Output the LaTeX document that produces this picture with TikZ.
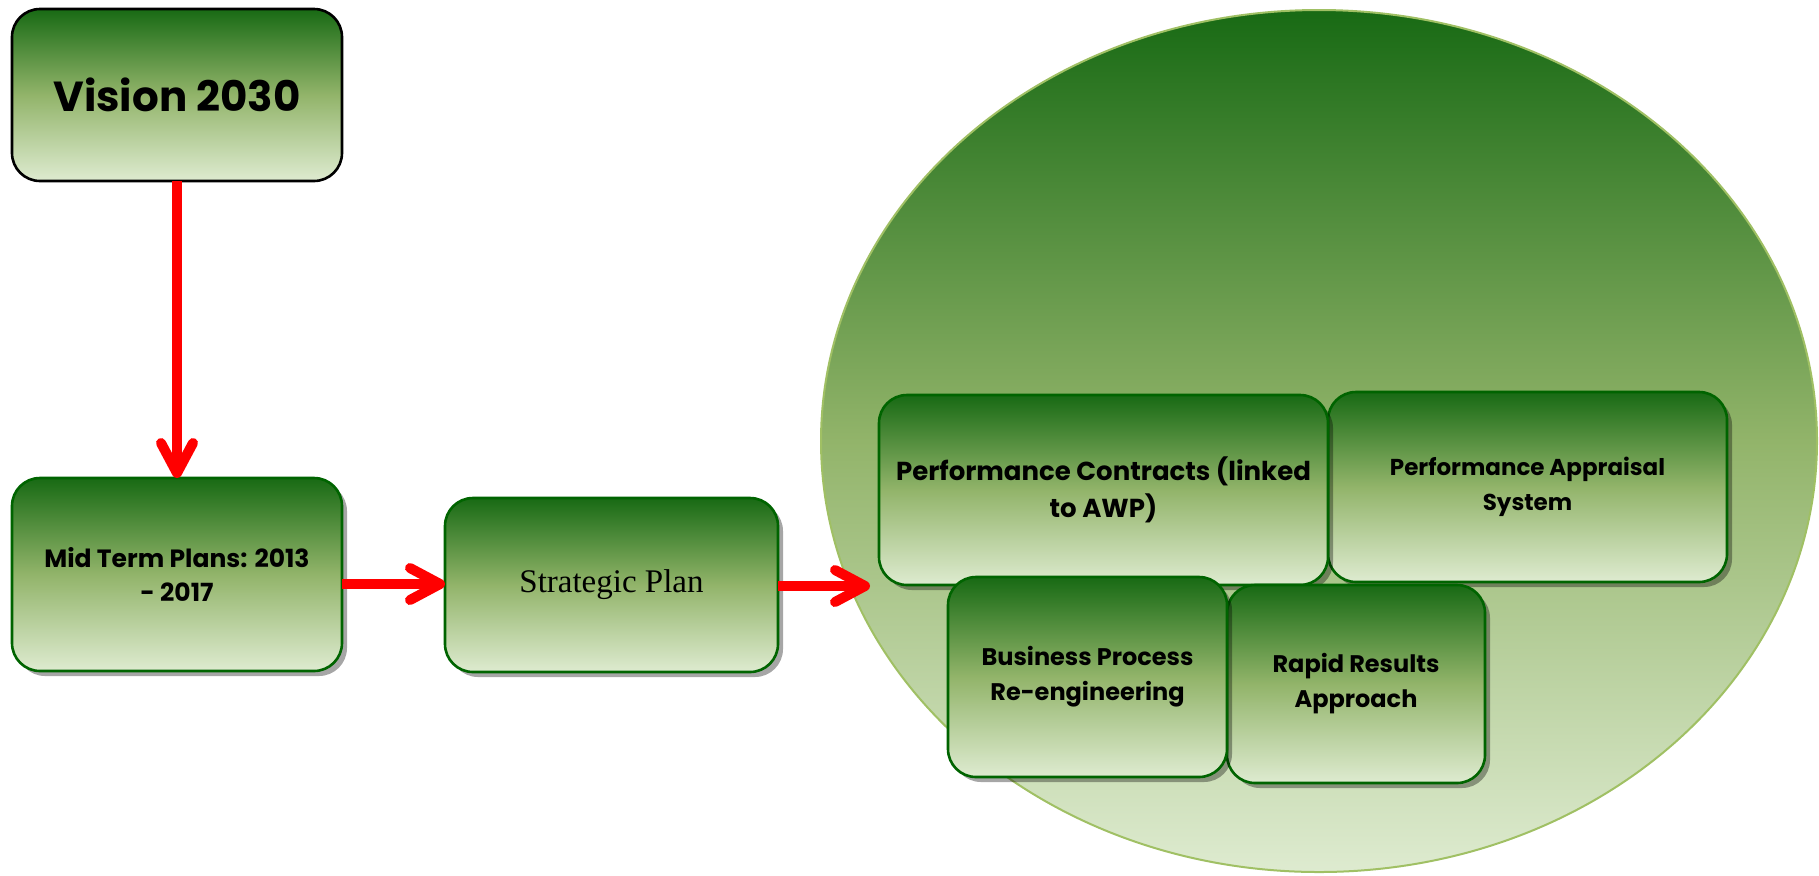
\documentclass[tikz,border=0pt]{standalone}
\usepackage{fontspec}
\newfontfamily\boxfont{Poppins}
\newfontfamily\planfont{Liberation Serif}
\usetikzlibrary{arrows.meta,shapes.geometric,shadows}

\definecolor{gtop}{RGB}{24,106,20}
\definecolor{gmid}{RGB}{146,180,106}
\definecolor{gbot}{RGB}{222,235,208}
\definecolor{bordergreen}{RGB}{0,100,0}
\definecolor{rimgreen}{RGB}{160,192,100}

\begin{document}
\begin{tikzpicture}[x=0.5pt,y=-0.5pt,
  greenbox/.style={rounded corners=14pt, draw=bordergreen, line width=1.3pt,
    top color=gtop, bottom color=gbot, middle color=gmid,
    inner sep=0pt, outer sep=0pt, align=center, font=\boxfont\bfseries},
  shadowed/.style={drop shadow={shadow xshift=2.5pt, shadow yshift=-2.5pt, fill=black, opacity=0.35}},
  redarrow/.style={draw=red, line width=5pt, -{Straight Barb[length=15pt,width=16pt,round]}},
  midtext/.style={font=\boxfont\bfseries\fontsize{12.5}{17}\selectfont},
  smalltext/.style={font=\boxfont\bfseries\fontsize{12}{17.5}\selectfont},
]
\useasboundingbox (0,0) rectangle (1819,875);

% large ellipse holding the performance tools
\node[ellipse, draw=rimgreen, line width=1pt, top color=gtop, bottom color=gbot,
      middle color=gmid, minimum width=996*0.5pt, minimum height=862*0.5pt,
      inner sep=0pt] (tools) at (1319,441) {};

% left column and strategic plan
\node[greenbox, draw=black, minimum width=165pt, minimum height=86pt,
      font=\boxfont\bfseries\fontsize{21}{25}\selectfont] (vision) at (177,95) {Vision 2030};
\node[greenbox, shadowed, minimum width=165pt, minimum height=96.5pt, midtext]
      (midterm) at (177,574.5) {Mid Term Plans: 2013\\- 2017};
\node[greenbox, shadowed, minimum width=166.5pt, minimum height=87pt,
      font=\planfont\fontsize{16.5}{20}\selectfont] (strategic) at (611.5,585) {Strategic Plan};

% boxes inside the ellipse
\node[greenbox, shadowed, minimum width=199.5pt, minimum height=95pt,
      font=\boxfont\bfseries\fontsize{11.5}{17.5}\selectfont] (appraisal) at (1527.5,487)
      {Performance Appraisal\\System};
\node[greenbox, shadowed, minimum width=224.5pt, minimum height=95pt,
      font=\boxfont\bfseries\fontsize{13}{18.5}\selectfont] (contracts) at (1103.5,490)
      {Performance Contracts (linked\\to AWP)};
\node[greenbox, shadowed, minimum width=129pt, minimum height=99pt, smalltext]
      (rapid) at (1356,684) {Rapid Results\\Approach};
\node[greenbox, shadowed, minimum width=139.5pt, minimum height=100pt, smalltext]
      (business) at (1087.5,677) {Business Process\\Re-engineering};

% connectors
\coordinate (entry) at (870,586);
\draw[redarrow] (vision.south) -- (midterm.north);
\draw[redarrow] (midterm.east |- 0,584) -- (strategic.west |- 0,584);
\draw[redarrow] (strategic.east |- entry) -- (entry);
\end{tikzpicture}
\end{document}
